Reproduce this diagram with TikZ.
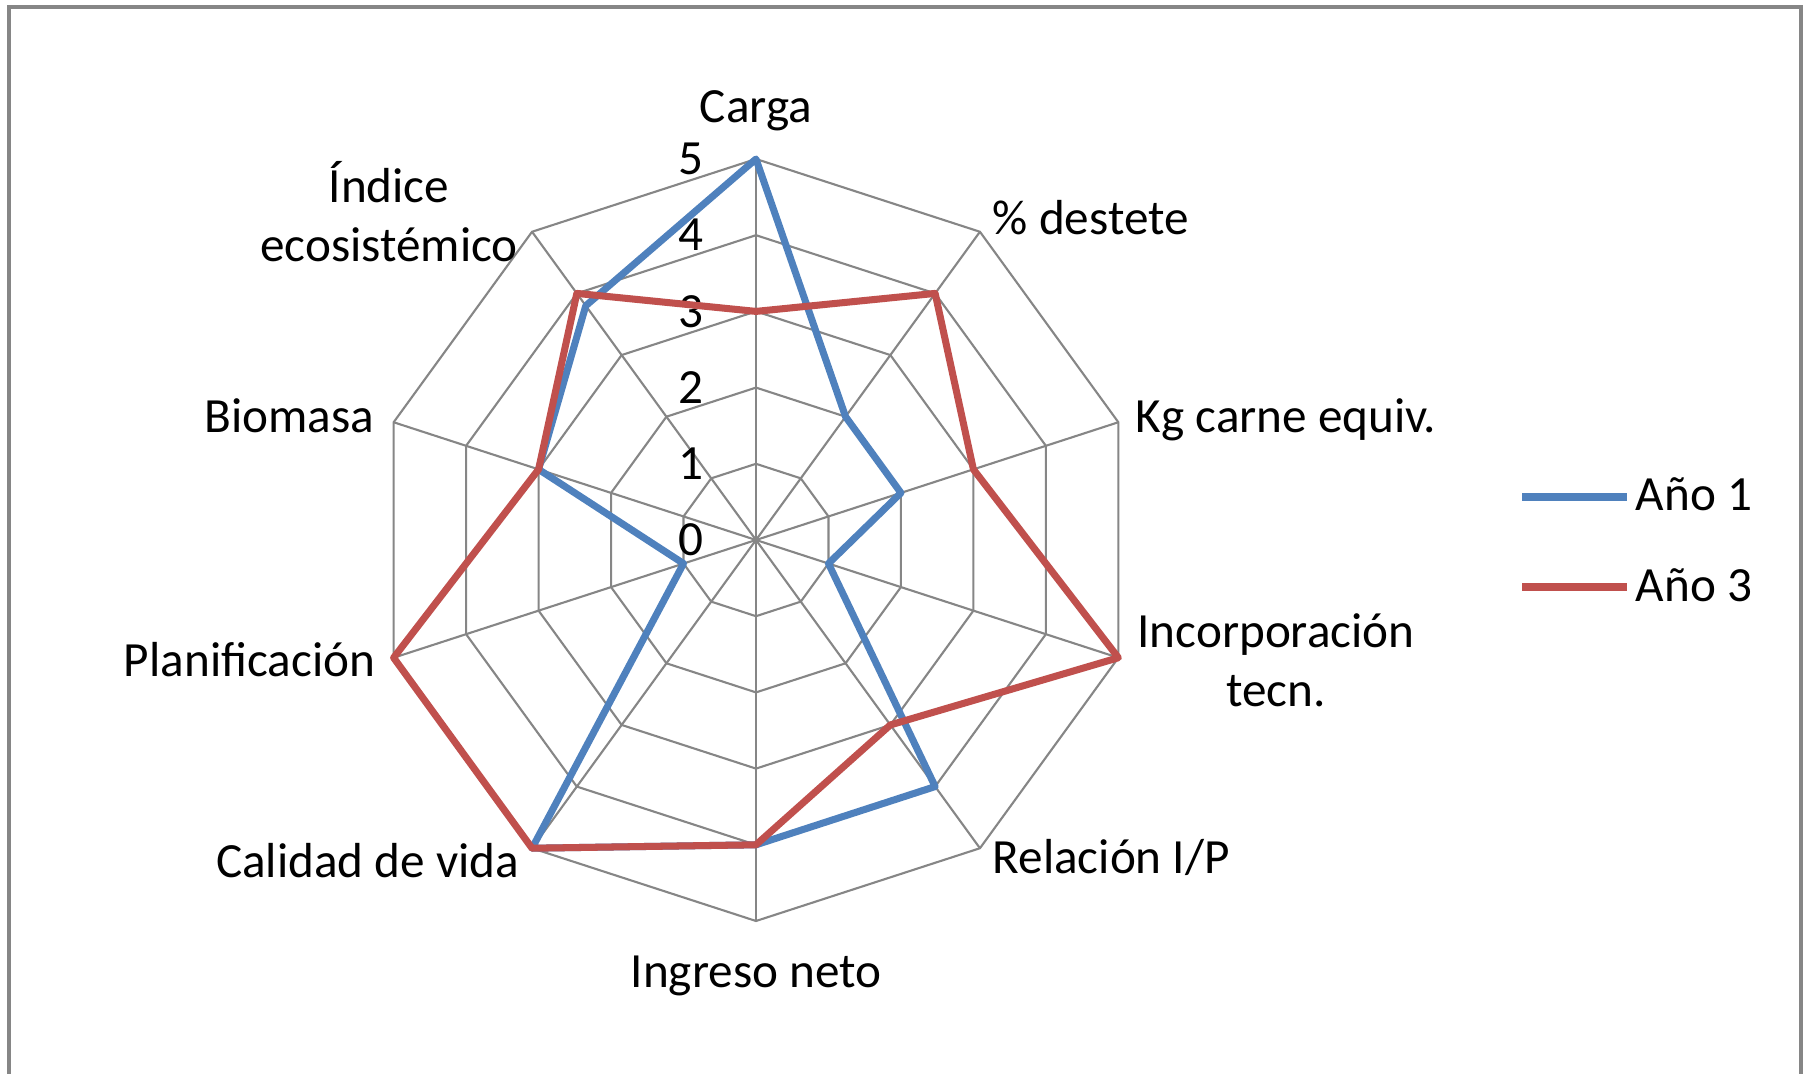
\documentclass[tikz,border=0pt]{standalone}
\usepackage{fontspec}
\setmainfont{Carlito}
\definecolor{serieblue}{RGB}{79,129,189}
\definecolor{seriered}{RGB}{192,80,77}
\definecolor{gridgray}{RGB}{134,134,134}
\begin{document}
\begin{tikzpicture}
\tikzset{gridline/.style = {draw=gridgray, line width=0.6pt}}
\tikzset{serie1/.style = {draw=serieblue, line width=2pt, line join=round}}
\tikzset{serie3/.style = {draw=seriered, line width=2pt, line join=round}}
\tikzset{axislabel/.style = {font=\fontsize{14}{17}\selectfont, inner sep=0pt, align=center}}
\tikzset{ticklabel/.style = {font=\fontsize{14}{17}\selectfont, inner sep=0pt, anchor=east}}
\def \unit {0.762cm}
\useasboundingbox (-7.56,-5.34) rectangle (10.54,5.40);
% frame
\draw[draw=gridgray, line width=0.9pt] (-7.47,-5.34) -- (-7.47,5.33) -- (10.45,5.33) -- (10.45,-5.34);
% axes
\coordinate (o) at (0,0);
\coordinate (a0) at (90:{5*\unit});
\coordinate (a1) at (54:{5*\unit});
\coordinate (a2) at (18:{5*\unit});
\coordinate (a3) at (-18:{5*\unit});
\coordinate (a4) at (-54:{5*\unit});
\coordinate (a5) at (-90:{5*\unit});
\coordinate (a6) at (-126:{5*\unit});
\coordinate (a7) at (-162:{5*\unit});
\coordinate (a8) at (162:{5*\unit});
\coordinate (a9) at (126:{5*\unit});
\draw[gridline] (90:{1*\unit}) -- (54:{1*\unit}) -- (18:{1*\unit}) -- (-18:{1*\unit}) -- (-54:{1*\unit}) -- (-90:{1*\unit}) -- (-126:{1*\unit}) -- (-162:{1*\unit}) -- (162:{1*\unit}) -- (126:{1*\unit}) -- cycle;
\draw[gridline] (90:{2*\unit}) -- (54:{2*\unit}) -- (18:{2*\unit}) -- (-18:{2*\unit}) -- (-54:{2*\unit}) -- (-90:{2*\unit}) -- (-126:{2*\unit}) -- (-162:{2*\unit}) -- (162:{2*\unit}) -- (126:{2*\unit}) -- cycle;
\draw[gridline] (90:{3*\unit}) -- (54:{3*\unit}) -- (18:{3*\unit}) -- (-18:{3*\unit}) -- (-54:{3*\unit}) -- (-90:{3*\unit}) -- (-126:{3*\unit}) -- (-162:{3*\unit}) -- (162:{3*\unit}) -- (126:{3*\unit}) -- cycle;
\draw[gridline] (90:{4*\unit}) -- (54:{4*\unit}) -- (18:{4*\unit}) -- (-18:{4*\unit}) -- (-54:{4*\unit}) -- (-90:{4*\unit}) -- (-126:{4*\unit}) -- (-162:{4*\unit}) -- (162:{4*\unit}) -- (126:{4*\unit}) -- cycle;
\draw[gridline] (a0) -- (a1) -- (a2) -- (a3) -- (a4) -- (a5) -- (a6) -- (a7) -- (a8) -- (a9) -- cycle;
\draw[gridline] (o) -- (a0);
\draw[gridline] (o) -- (a1);
\draw[gridline] (o) -- (a2);
\draw[gridline] (o) -- (a3);
\draw[gridline] (o) -- (a4);
\draw[gridline] (o) -- (a5);
\draw[gridline] (o) -- (a6);
\draw[gridline] (o) -- (a7);
\draw[gridline] (o) -- (a8);
\draw[gridline] (o) -- (a9);
% scale
\node[ticklabel] (t0) at (-0.52,{0*\unit}) {0};
\node[ticklabel] (t1) at (-0.52,{1*\unit}) {1};
\node[ticklabel] (t2) at (-0.52,{2*\unit}) {2};
\node[ticklabel] (t3) at (-0.52,{3*\unit}) {3};
\node[ticklabel] (t4) at (-0.52,{4*\unit}) {4};
\node[ticklabel] (t5) at (-0.52,{5*\unit}) {5};
% axis labels
\node[axislabel, anchor=base] (carga) at (0,4.17) {Carga};
\node[axislabel, anchor=base west] (destete) at (2.36,3.05) {\% destete};
\node[axislabel, anchor=base west] (kgcarne) at (3.79,1.07) {Kg carne equiv.};
\node[axislabel, anchor=base] (incorp) at (5.20,-1.67) {Incorporación\\tecn.};
\node[axislabel, anchor=base west] (relacion) at (2.36,-3.33) {Relación I/P};
\node[axislabel, anchor=base] (ingreso) at (0,-4.47) {Ingreso neto};
\node[axislabel, anchor=base east] (calidad) at (-2.36,-3.37) {Calidad de vida};
\node[axislabel, anchor=base east] (planif) at (-3.80,-1.37) {Planificación};
\node[axislabel, anchor=base east] (biomasa) at (-3.81,1.07) {Biomasa};
\node[axislabel, anchor=base] (indice) at (-3.67,2.78) {Índice\\ecosistémico};
% Año 1
\coordinate (b0) at (90:{5*\unit});
\coordinate (b1) at (54:{2*\unit});
\coordinate (b2) at (18:{2*\unit});
\coordinate (b3) at (-18:{1*\unit});
\coordinate (b4) at (-54:{4*\unit});
\coordinate (b5) at (-90:{4*\unit});
\coordinate (b6) at (-126:{5*\unit});
\coordinate (b7) at (-162:{1*\unit});
\coordinate (b8) at (162:{3*\unit});
\coordinate (b9) at (126:{3.8*\unit});
\draw[serie1] (b0) -- (b1) -- (b2) -- (b3) -- (b4) -- (b5) -- (b6) -- (b7) -- (b8) -- (b9) -- cycle;
% Año 3
\coordinate (r0) at (90:{3*\unit});
\coordinate (r1) at (54:{4*\unit});
\coordinate (r2) at (18:{3*\unit});
\coordinate (r3) at (-18:{5*\unit});
\coordinate (r4) at (-54:{3*\unit});
\coordinate (r5) at (-90:{4*\unit});
\coordinate (r6) at (-126:{5*\unit});
\coordinate (r7) at (-162:{5*\unit});
\coordinate (r8) at (162:{3*\unit});
\coordinate (r9) at (126:{4*\unit});
\draw[serie3] (r0) -- (r1) -- (r2) -- (r3) -- (r4) -- (r5) -- (r6) -- (r7) -- (r8) -- (r9) -- cycle;
% legend
\coordinate (l1a) at (7.66,0.43);
\coordinate (l1b) at (8.71,0.43);
\coordinate (l3a) at (7.66,-0.47);
\coordinate (l3b) at (8.71,-0.47);
\draw[serie1] (l1a) -- (l1b);
\draw[serie3] (l3a) -- (l3b);
\node[axislabel, anchor=base west] (leg1) at (8.79,0.29) {Año 1};
\node[axislabel, anchor=base west] (leg3) at (8.79,-0.61) {Año 3};
\end{tikzpicture}
\end{document}
